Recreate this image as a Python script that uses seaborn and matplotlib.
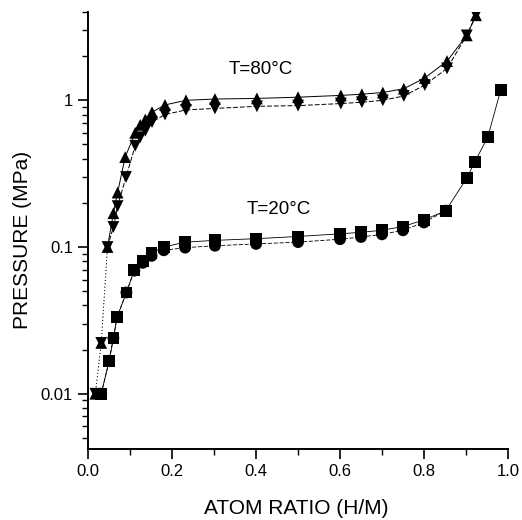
import matplotlib
matplotlib.use("Agg")
import matplotlib.pyplot as plt
import seaborn as sns
import pandas as pd
from matplotlib.ticker import FixedLocator, NullFormatter, LogLocator

# Hydrogen atom ratio (H/M) and equilibrium pressure (MPa)
x80_abs = [0.017, 0.031, 0.046, 0.060, 0.070, 0.088, 0.112, 0.124, 0.136, 0.152, 0.183,
           0.233, 0.302, 0.402, 0.500, 0.602, 0.652, 0.702, 0.752, 0.802, 0.855, 0.902, 0.924]
p80_abs = [0.010, 0.0222, 0.100, 0.170, 0.235, 0.410, 0.600, 0.680, 0.740, 0.830, 0.930,
           1.00, 1.02, 1.03, 1.05, 1.08, 1.10, 1.13, 1.20, 1.42, 1.85, 2.77, 3.80]

x80_des = [0.017, 0.031, 0.046, 0.060, 0.070, 0.090, 0.112, 0.124, 0.136, 0.152, 0.183,
           0.233, 0.302, 0.402, 0.500, 0.602, 0.652, 0.702, 0.752, 0.802, 0.855, 0.902, 0.924]
p80_des = [0.010, 0.0222, 0.100, 0.137, 0.190, 0.300, 0.490, 0.560, 0.620, 0.710, 0.800,
           0.860, 0.880, 0.910, 0.920, 0.950, 0.970, 1.00, 1.07, 1.27, 1.65, 2.77, 3.80]

x20_abs = [0.031, 0.050, 0.060, 0.069, 0.091, 0.110, 0.130, 0.151, 0.180, 0.231, 0.302,
           0.400, 0.500, 0.600, 0.650, 0.700, 0.750, 0.800, 0.852, 0.902, 0.921, 0.952, 0.983]
p20_abs = [0.010, 0.0168, 0.0240, 0.0334, 0.049, 0.070, 0.080, 0.091, 0.100, 0.108, 0.111,
           0.114, 0.118, 0.123, 0.126, 0.130, 0.138, 0.153, 0.177, 0.295, 0.380, 0.560, 1.18]

x20_des = [0.031, 0.050, 0.060, 0.069, 0.091, 0.110, 0.130, 0.151, 0.180, 0.231, 0.302,
           0.400, 0.500, 0.600, 0.650, 0.700, 0.750, 0.800, 0.852]
p20_des = [0.010, 0.0168, 0.0240, 0.0334, 0.049, 0.069, 0.078, 0.087, 0.095, 0.099, 0.102,
           0.105, 0.108, 0.113, 0.117, 0.122, 0.130, 0.147, 0.177]

x_ticks = [0.0, 0.2, 0.4, 0.6, 0.8, 1.0]
x_ticklabels = ["0.0", "0.2", "0.4", "0.6", "0.8", "1.0"]
y_ticks = [0.01, 0.1, 1]
y_ticklabels = ["0.01", "0.1", "1"]

sns.set_style("ticks")
plt.rcParams["font.family"] = ["Liberation Sans", "DejaVu Sans"]

fig = plt.figure(figsize=(5.22, 5.20), dpi=100)
ax = fig.add_axes([0.169, 0.1365, 0.804, 0.8405])


def draw(xs, ps, marker, ls, start=0, lw=0.7):
    """Markers for every point; connecting line from `start` onward,
    with a faint dotted link for the low-concentration points before it."""
    df = pd.DataFrame({"x": xs, "p": ps})
    if start > 0:
        sns.lineplot(data=df.iloc[:start + 1], x="x", y="p", ax=ax, sort=False,
                     estimator=None, color="black", linewidth=0.6,
                     linestyle=(0, (1, 3)))
    sns.lineplot(data=df.iloc[start:], x="x", y="p", ax=ax, sort=False,
                 estimator=None, color="black", linewidth=lw, linestyle=ls)
    sns.scatterplot(data=df, x="x", y="p", ax=ax, marker=marker, s=72,
                    color="black", edgecolor="none", linewidth=0, zorder=3)


draw(x80_abs, p80_abs, "^", "-", start=2)
draw(x80_des, p80_des, "v", (0, (5, 2)), start=2)
draw(x20_abs, p20_abs, "s", "-", start=0, lw=0.6)
draw(x20_des, p20_des, "o", (0, (5, 2)), start=0, lw=0.6)

ax.set_yscale("log")
ax.set_xlim(0, 1.0)
ax.set_ylim(0.0042, 4.0)

ax.xaxis.set_major_locator(FixedLocator(x_ticks))
ax.set_xticklabels(x_ticklabels)
ax.xaxis.set_minor_locator(FixedLocator([0.1, 0.3, 0.5, 0.7, 0.9]))
ax.yaxis.set_major_locator(FixedLocator(y_ticks))
ax.set_yticklabels(y_ticklabels)
ax.yaxis.set_minor_locator(LogLocator(base=10, subs=range(2, 10)))
ax.yaxis.set_minor_formatter(NullFormatter())

ax.tick_params(axis="both", which="major", labelsize=12)
ax.tick_params(axis="both", which="major", direction="out", length=7, width=1.2,
               pad=4, color="black", labelcolor="black")
ax.tick_params(axis="both", which="minor", direction="out", length=4, width=1.0,
               color="black")

for side in ("top", "right"):
    ax.spines[side].set_visible(False)
for side in ("left", "bottom"):
    ax.spines[side].set_linewidth(1.4)
    ax.spines[side].set_color("black")

ax.set_xlabel("ATOM RATIO (H/M)", fontsize=15, color="black", va="center")
ax.set_ylabel("PRESSURE (MPa)", fontsize=15, color="black", va="center")
ax.xaxis.set_label_coords(0.495, -0.135)
ax.yaxis.set_label_coords(-0.157, 0.478)

ax.text(0.412, 1.63, "T=80°C", fontsize=13.5, ha="center", va="center", color="black")
ax.text(0.455, 0.18, "T=20°C", fontsize=13.5, ha="center", va="center", color="black")

fig.savefig("out.png", dpi=100)
